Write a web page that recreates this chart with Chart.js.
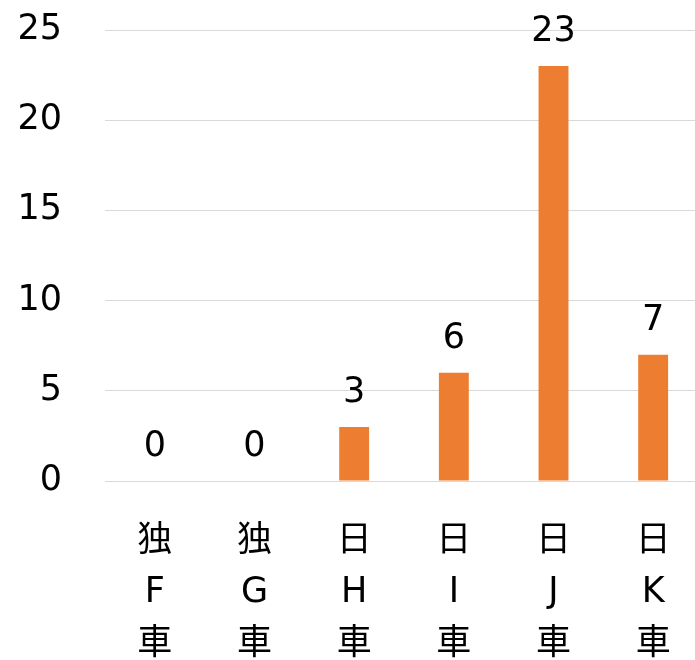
<!DOCTYPE html>
<html>
<head>
<meta charset="utf-8">
<script src="https://cdn.jsdelivr.net/npm/chart.js@4.4.0/dist/chart.umd.min.js"></script>
<style>
  html, body { margin: 0; padding: 0; background: #fff; overflow: hidden; }
  #wrap { width: 703px; height: 660px; }
</style>
</head>
<body>
<div id="wrap"><canvas id="carChart" width="703" height="660"></canvas></div>
<script>
const categories = [
  ['独', 'F', '車'],
  ['独', 'G', '車'],
  ['日', 'H', '車'],
  ['日', 'I', '車'],
  ['日', 'J', '車'],
  ['日', 'K', '車']
];
const counts = [0, 0, 3, 6, 23, 7];
const yTicks = [0, 5, 10, 15, 20, 25];

const fontFamily = '"DejaVu Sans", "Noto Sans CJK JP", sans-serif';

// draws the value above each bar
const valueLabels = {
  id: 'valueLabels',
  afterDatasetsDraw(chart) {
    const ctx = chart.ctx;
    const meta = chart.getDatasetMeta(0);
    ctx.save();
    ctx.font = '35px ' + fontFamily;
    ctx.fillStyle = '#000';
    ctx.textAlign = 'center';
    ctx.textBaseline = 'middle';
    meta.data.forEach((bar, i) => {
      ctx.fillText(String(counts[i]), bar.x, bar.y - 34);
    });
    ctx.restore();
  }
};

const ctx = document.getElementById('carChart').getContext('2d');
new Chart(ctx, {
  type: 'bar',
  data: {
    labels: categories,
    datasets: [{
      data: counts,
      backgroundColor: '#ED7D31',
      barPercentage: 0.6,
      categoryPercentage: 0.5
    }]
  },
  options: {
    responsive: false,
    animation: false,
    devicePixelRatio: 1,
    layout: { padding: { top: 30, left: 0, right: 0, bottom: 0 } },
    plugins: {
      legend: { display: false },
      tooltip: { enabled: false }
    },
    scales: {
      x: {
        grid: { display: false, drawTicks: false },
        border: { display: false },
        ticks: {
          color: '#000',
          font: { family: fontFamily, size: 35, lineHeight: 1.47 },
          padding: 35,
          maxRotation: 0,
          autoSkip: false
        },
        afterFit(scale) {
          scale.height = 179;
          scale.paddingLeft = 0;
          scale.paddingRight = 0;
        }
      },
      y: {
        min: 0,
        max: 25,
        afterBuildTicks(scale) { scale.ticks = yTicks.map(v => ({ value: v })); },
        grid: { color: '#d9d9d9', lineWidth: 1, drawTicks: false },
        border: { display: false },
        ticks: {
          color: '#000',
          font: { family: fontFamily, size: 35 },
          padding: 43
        },
        afterFit(scale) {
          scale.width = 105;
          scale.paddingTop = 0;
          scale.paddingBottom = 0;
        }
      }
    }
  },
  plugins: [valueLabels]
});
</script>
</body>
</html>
